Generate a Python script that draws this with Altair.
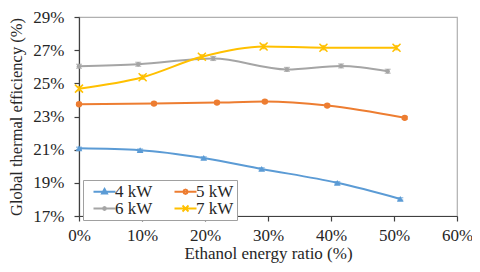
import altair as alt
import pandas as pd

series = ["4 kW", "5 kW", "6 kW", "7 kW"]
colors = ["#5B9BD5", "#ED7D31", "#A5A5A5", "#FFC000"]

x_4kw = [0, 9.7, 19.8, 29.0, 41.0, 51.0]
y_4kw = [21.08, 20.97, 20.5, 19.84, 19.0, 18.03]
x_5kw = [0, 11.9, 21.9, 29.5, 39.4, 51.7]
y_5kw = [23.74, 23.78, 23.84, 23.9, 23.66, 22.92]
x_6kw = [0, 9.4, 21.3, 33.0, 41.6, 49.0]
y_6kw = [26.03, 26.15, 26.5, 25.84, 26.05, 25.73]
x_7kw = [0, 10.1, 19.5, 29.3, 38.8, 50.4]
y_7kw = [24.68, 25.37, 26.6, 27.22, 27.15, 27.15]
err = {"4 kW": 0.07, "5 kW": 0.08, "6 kW": 0.12, "7 kW": 0.13}

x_ticks = [0, 10, 20, 30, 40, 50, 60]
y_ticks = [17, 19, 21, 23, 25, 27, 29]

rows = []
for s, xs, ys in zip(series, [x_4kw, x_5kw, x_6kw, x_7kw], [y_4kw, y_5kw, y_6kw, y_7kw]):
    for i, (a, b) in enumerate(zip(xs, ys)):
        rows.append({"series": s, "ratio": a, "eff": b, "lo": b - err[s], "hi": b + err[s], "order": i})
df = pd.DataFrame(rows)

FONT = "Liberation Serif"
TXT = "#262626"

xaxis = alt.Axis(values=x_ticks, labelExpr="datum.value + '%'",
                 title="Ethanol energy ratio (%)", grid=False,
                 tickSize=5, labelPadding=6, titlePadding=2,
                 labelFlush=False, labelOverlap=False,
                 labelFontSize=17, titleFontSize=17)
yaxis = alt.Axis(values=y_ticks, labelExpr="datum.value + '%'",
                 title="Global thermal efficiency (%)", grid=False,
                 tickSize=5, labelPadding=10, titlePadding=8,
                 labelFlush=False, labelOverlap=False,
                 labelFontSize=17, titleFontSize=16.5)
xsc = alt.Scale(domain=[0, 60], nice=False)
ysc = alt.Scale(domain=[17, 29], nice=False)


def X(f):
    return alt.X(f, scale=xsc, axis=xaxis)


def Y(f):
    return alt.Y(f, scale=ysc, axis=yaxis)


cscale = alt.Scale(domain=series, range=colors)
col = alt.Color("series:N", scale=cscale, legend=None)

base = alt.Chart(df)

lines = base.mark_line(interpolate="monotone", strokeWidth=2).encode(
    x=X("ratio:Q"), y=Y("eff:Q"), color=col, order="order:Q", detail="series:N")

ebars = base.mark_rule(strokeWidth=1.2).encode(
    x=X("ratio:Q"), y=Y("lo:Q"), y2="hi:Q", color=col)
caps_lo = base.mark_tick(orient="horizontal", size=6, thickness=1.2).encode(
    x=X("ratio:Q"), y=Y("lo:Q"), color=col)
caps_hi = base.mark_tick(orient="horizontal", size=6, thickness=1.2).encode(
    x=X("ratio:Q"), y=Y("hi:Q"), color=col)

shapes = {"4 kW": ("triangle-up", 45, True), "5 kW": ("circle", 40, True),
          "6 kW": ("circle", 20, True), "7 kW": ("M-1,-1L1,1M-1,1L1,-1", 64, False)}
pts = []
for s in series:
    shp, sz, filled = shapes[s]
    pts.append(base.transform_filter(alt.datum.series == s).mark_point(
        shape=shp, size=sz, filled=filled, opacity=1, strokeWidth=1.5).encode(
        x=X("ratio:Q"), y=Y("eff:Q"), color=col))

legend_paths = [
    "M-2.2,0L2.2,0M0,-0.6L0.52,0.35L-0.52,0.35Z",
    "M-2.2,0L2.2,0M0.45,0L0.32,0.32L0,0.45L-0.32,0.32L-0.45,0L-0.32,-0.32L0,-0.45L0.32,-0.32Z",
    "M-2.2,0L2.2,0M0.3,0L0.21,0.21L0,0.3L-0.21,0.21L-0.3,0L-0.21,-0.21L0,-0.3L0.21,-0.21Z",
    "M-2.2,0L2.2,0M-0.6,-0.6L0.6,0.6M-0.6,0.6L0.6,-0.6",
]
leg = alt.Legend(title=None, orient="none", legendX=4, legendY=163, columns=2,
                 direction="horizontal",
                 symbolSize=100, symbolStrokeWidth=1.8, symbolOpacity=1,
                 labelFont=FONT, labelFontSize=17, labelColor=TXT, labelOffset=2,
                 symbolOffset=10, columnPadding=14, rowPadding=-2,
                 padding=3, strokeColor="#A0A0A0", fillColor="white")
legend_layer = base.mark_point(filled=False).encode(
    x=X("ratio:Q"), y=Y("eff:Q"),
    color=alt.Color("series:N", scale=alt.Scale(domain=series, range=colors), legend=leg),
    shape=alt.Shape("series:N", scale=alt.Scale(domain=series, range=legend_paths), legend=leg),
    opacity=alt.value(0))

chart = alt.layer(lines, ebars, caps_lo, caps_hi, *pts, legend_layer).resolve_scale(
    color="independent", shape="independent"
).properties(
    width=378, height=199,
    autosize=alt.AutoSizeParams(type="none"),
    padding={"left": 71, "top": 9, "right": 15, "bottom": 48},
).configure(background="white").configure_view(stroke="#B0B0B0", strokeWidth=1.2).configure_axis(
    labelFont=FONT, titleFont=FONT, labelColor=TXT, titleColor=TXT,
    titleFontWeight="normal", domainColor="#404040", tickColor="#404040",
    domainWidth=1.2, tickWidth=1.2
)

chart.save("out.html", embed_options={"renderer": "svg", "actions": False})
